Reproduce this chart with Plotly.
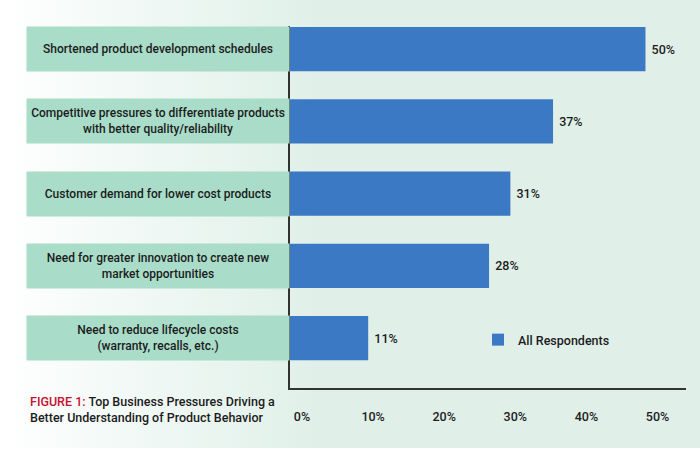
import plotly.graph_objects as go
import urllib.parse

categories = [
    "Shortened product development schedules",
    "Competitive pressures to differentiate products<br>with better quality/reliability",
    "Customer demand for lower cost products",
    "Need for greater innovation to create new<br>market opportunities",
    "Need to reduce lifecycle costs<br>(warranty, recalls, etc.)",
]
values = [50, 37, 31, 28, 11]
series_name = "All Respondents"
tick_vals = [0, 10, 20, 30, 40, 50]
tick_text = ["0%", "10%", "20%", "30%", "40%", "50%"]

W, H = 700, 454
L, R, T, B = 290, 14, 26, 66
pw, ph = W - L - R, H - T - B

BLUE = "#3b79c4"
BOX = "#a9dcc9"
MINT = "#e0f0e9"
TXT = "#1c1c1c"
FONT = "Roboto"

cat_ids = list(range(len(categories)))

fig = go.Figure()
fig.add_trace(go.Bar(
    y=cat_ids, x=values, orientation="h", name=series_name,
    marker=dict(color=BLUE, line=dict(width=0)),
    width=0.61,
    text=[f" {v}%" for v in values], textposition="outside",
    textfont=dict(family=FONT, size=12.5, color=TXT, weight=500),
    cliponaxis=False,
))

# background gradient image
svg = (f'<svg xmlns="http://www.w3.org/2000/svg" width="{W}" height="{H}" viewBox="0 0 {W} {H}" preserveAspectRatio="none">'
       '<defs><linearGradient id="g" x1="0" y1="0" x2="1" y2="0">'
       '<stop offset="0" stop-color="#ffffff"/><stop offset="0.12" stop-color="#f6fbf9"/>'
       f'<stop offset="0.45" stop-color="{MINT}"/><stop offset="1" stop-color="{MINT}"/></linearGradient></defs>'
       f'<rect x="0" y="0" width="{W}" height="448" fill="url(#g)"/></svg>')
uri = "data:image/svg+xml;charset=utf-8," + urllib.parse.quote(svg)
fig.add_layout_image(dict(
    source=uri, xref="paper", yref="paper",
    x=-L / pw, y=1 + T / ph, sizex=W / pw, sizey=H / ph,
    xanchor="left", yanchor="top", sizing="stretch", layer="below",
))

# category label boxes
for i, c in enumerate(categories):
    fig.add_annotation(
        x=(158 - L) / pw, xref="paper", y=i, yref="y",
        text=c, showarrow=False, xanchor="center", yanchor="middle",
        width=260, height=42, bgcolor=BOX, borderpad=1, align="center",
        valign="middle", font=dict(family=FONT, size=12, color=TXT, weight=500),
    )

# caption
fig.add_annotation(
    x=(28 - L) / pw, xref="paper", y=(388 - 392) / ph, yref="paper",
    xanchor="left", yanchor="top", align="left", showarrow=False,
    text="<span style='color:#c8102e'>FIGURE 1:</span> Top Business Pressures Driving a<br>Better Understanding of Product Behavior",
    font=dict(family=FONT, size=12.5, color=TXT, weight=500),
)

fig.update_layout(
    width=W, height=H,
    margin=dict(l=L, r=R, t=T, b=B),
    paper_bgcolor="white", plot_bgcolor="rgba(0,0,0,0)",
    showlegend=True,
    legend=dict(x=(478 - L) / pw, y=(388 - 340) / ph, xanchor="left", yanchor="middle",
                bgcolor="rgba(0,0,0,0)", font=dict(family=FONT, size=12.5, color=TXT, weight=500)),
    xaxis=dict(range=[0, 55.7], tickvals=tick_vals, ticktext=tick_text, showgrid=False,
               zeroline=False, showline=True, linecolor="#333333", linewidth=1.5,
               ticks="", ticklabelstandoff=16, ticklabelshift=12,
               tickfont=dict(family=FONT, size=12.5, color=TXT, weight=500), fixedrange=True),
    yaxis=dict(range=[4.69, -0.32], showticklabels=False, showgrid=False, zeroline=False,
               showline=True, linecolor="#333333", linewidth=1.5, ticks="", fixedrange=True),
    bargap=0.39,
)

fig.write_html("out.html")
